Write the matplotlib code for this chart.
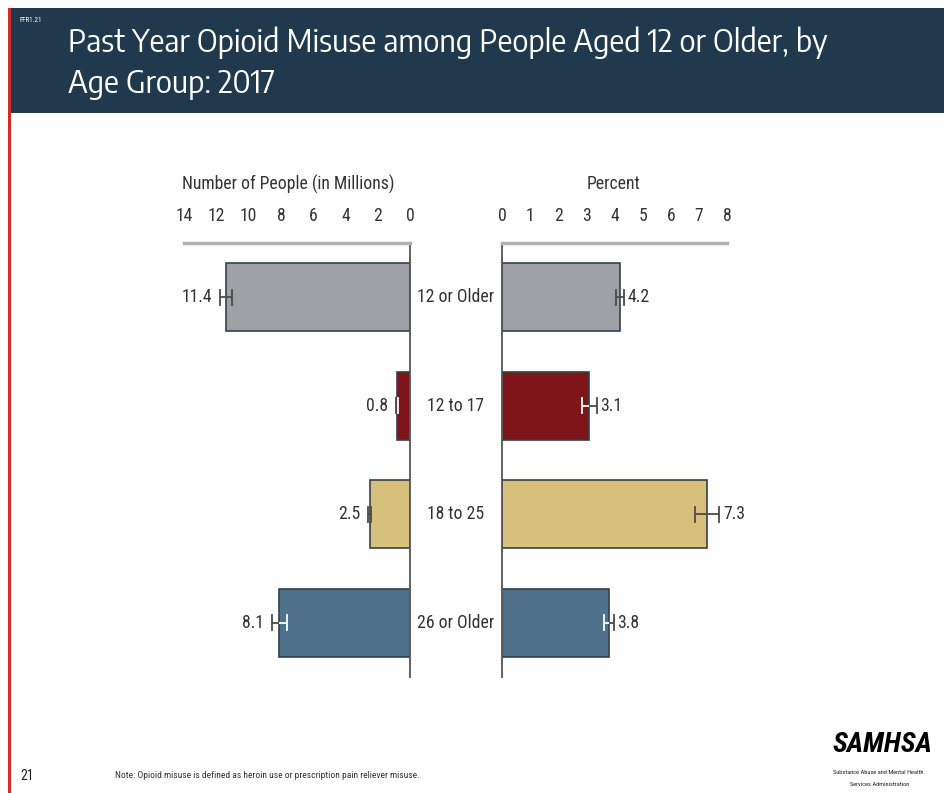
import matplotlib
matplotlib.use("Agg")
import matplotlib.pyplot as plt
from matplotlib.patches import Rectangle
from matplotlib import font_manager
from matplotlib.colors import to_rgb

fonts = font_manager.fontManager.ttflist
names = {f.name for f in fonts}

def pick(prefs):
    for p in prefs:
        if p in names:
            return [p, 'DejaVu Sans']
    return ['DejaVu Sans']

def has_weight(name, lo, hi):
    return any(f.name == name and lo <= (f.weight if isinstance(f.weight, int) else 400) <= hi
               for f in fonts)

NARROW = pick(['Roboto Condensed', 'Archivo Narrow', 'PT Sans Narrow', 'Liberation Sans Narrow',
               'Arial Narrow', 'Pragati Narrow', 'IBM Plex Sans Condensed', 'Asap Condensed'])
title_prefs = [n for n in ['Open Sans Condensed', 'Encode Sans Semi Condensed',
                           'Encode Sans Condensed', 'Roboto Condensed', 'Open Sans']
               if n in names and has_weight(n, 250, 450)]
TITLEF = [title_prefs[0], 'DejaVu Sans'] if title_prefs else ['DejaVu Sans']
TW = 300 if TITLEF[0] == 'Open Sans Condensed' else 400
LOGOF = NARROW

categories = ["12 or Older", "12 to 17", "18 to 25", "26 or Older"]
people_millions = [11.4, 0.8, 2.5, 8.1]
people_err = [0.37, 0.05, 0.1, 0.45]
percent = [4.2, 3.1, 7.3, 3.8]
percent_err = [0.15, 0.27, 0.43, 0.17]
bar_colors = ["#a0a1a6", "#7f1419", "#d7bf7c", "#4f718c"]
left_ticks = [14, 12, 10, 8, 6, 4, 2, 0]
right_ticks = [0, 1, 2, 3, 4, 5, 6, 7, 8]

W, H = 945, 793
fig = plt.figure(figsize=(W / 100, H / 100), dpi=100)
fig.patch.set_facecolor("white")
renderer = fig.canvas.get_renderer()

def fit_size(text, family, target_px, base=20, **kw):
    t = fig.text(0, 0, text, fontsize=base, family=family, **kw)
    w = t.get_window_extent(renderer=renderer).width
    t.remove()
    return base * target_px / w

def px(x0, y0, w, h):
    return [x0 / W, 1 - (y0 + h) / H, w / W, h / H]

TXT = "#333333"
FS = min(fit_size("Number of People (in Millions)", NARROW, 212), 16)

# Title band
fig.patches.append(Rectangle((8 / W, 1 - 113 / H), 1, 105 / H, transform=fig.transFigure,
                             facecolor="#20394d", edgecolor="none", zorder=0))
fig.patches.append(Rectangle((8 / W, 0), 3 / W, 1 - 8 / H, transform=fig.transFigure,
                             facecolor="#d42a2a", edgecolor="none", zorder=1))
fig.text(20 / W, 1 - 20 / H, "FFR1.21", color="white", fontsize=5, family=NARROW,
         va="center", ha="left")
title1 = "Past Year Opioid Misuse among People Aged 12 or Older, by"
TFS = min(fit_size(title1, TITLEF, 762, weight=TW), 28)
fig.text(68 / W, 1 - 52 / H, title1, color="white", fontsize=TFS, family=TITLEF, weight=TW,
         va="baseline", ha="left")
fig.text(68 / W, 1 - 93 / H, "Age Group: 2017", color="white", fontsize=TFS, family=TITLEF,
         weight=TW, va="baseline", ha="left")

ypos = list(range(len(categories)))
edge = "#36404a"
errc = "#4a4a4a"

def inner_color(c):
    r, g, b = to_rgb(c)
    return "white" if (0.299 * r + 0.587 * g + 0.114 * b) < 0.5 else errc

axL = fig.add_axes(px(184, 243, 226, 434))
axR = fig.add_axes(px(502, 243, 225, 434))

for ax, vals, errs, ticks, lim, side in [
        (axL, people_millions, people_err, left_ticks, (14, 0), "L"),
        (axR, percent, percent_err, right_ticks, (0, 8), "R")]:
    ax.barh(ypos, vals, height=0.63, color=bar_colors, edgecolor=edge, linewidth=1.2, zorder=2)
    for y, v, e, bc in zip(ypos, vals, errs, bar_colors):
        ic = inner_color(bc)
        ax.plot([v - e, v], [y, y], color=ic, lw=1.3, zorder=3, solid_capstyle="butt")
        ax.plot([v, v + e], [y, y], color=errc, lw=1.3, zorder=3, solid_capstyle="butt")
        ax.plot([v - e, v - e], [y - 0.07, y + 0.07], color=ic, lw=1.3, zorder=3)
        ax.plot([v + e, v + e], [y - 0.07, y + 0.07], color=errc, lw=1.3, zorder=3)
        txt = f"{v:.1f}"
        if side == "L":
            ax.text(v + e + 0.5, y, txt, ha="right", va="center", fontsize=FS, family=NARROW,
                    color=TXT)
        else:
            ax.text(v + e + 0.12, y, txt, ha="left", va="center", fontsize=FS, family=NARROW,
                    color=TXT)
    ax.set_xlim(*lim)
    ax.set_ylim(3.5, -0.5)
    ax.set_yticks([])
    ax.set_xticks(ticks)
    ax.set_xticklabels([str(t) for t in ticks], family=NARROW, fontsize=FS, color=TXT)
    ax.xaxis.set_ticks_position("top")
    ax.tick_params(axis="x", length=0, pad=13)
    ax.set_facecolor("none")
    for s in ["bottom", "left", "right", "top"]:
        ax.spines[s].set_visible(False)
    ax.spines["top"].set_visible(True)
    ax.spines["top"].set_color("#b0b0b0")
    ax.spines["top"].set_linewidth(2.5)
    keep = "right" if side == "L" else "left"
    ax.spines[keep].set_visible(True)
    ax.spines[keep].set_color("#555555")
    ax.spines[keep].set_linewidth(1.3)

fig.text(288 / W, 1 - 184 / H, "Number of People (in Millions)", family=NARROW, fontsize=FS,
         color=TXT, ha="center", va="center")
fig.text(614 / W, 1 - 184 / H, "Percent", family=NARROW, fontsize=FS,
         color=TXT, ha="center", va="center")

for y, c in zip(ypos, categories):
    axL.annotate(c, xy=(1, y), xycoords=("axes fraction", "data"), xytext=(46 * 0.72, 0),
                 textcoords="offset points", ha="center", va="center", fontsize=FS,
                 family=NARROW, color=TXT)

# Footer
fig.text(20 / W, 1 - 776 / H, "21", fontsize=10, family=NARROW,
         va="center", ha="left", color="#222222")
note = "Note: Opioid misuse is defined as heroin use or prescription pain reliever misuse."
fig.text(115 / W, 1 - 775 / H, note, fontsize=fit_size(note, NARROW, 303), family=NARROW,
         va="center", ha="left", color="#333333")
fig.text(882 / W, 1 - 745 / H, "SAMHSA",
         fontsize=fit_size("SAMHSA", LOGOF, 100, weight="heavy", style="italic"),
         family=LOGOF, weight="heavy", style="italic", va="center", ha="center", color="black")
sub1 = "Substance Abuse and Mental Health"
sfs = fit_size(sub1, NARROW, 90)
fig.text(878 / W, 1 - 773 / H, sub1, fontsize=sfs, family=NARROW,
         va="center", ha="center", color="#222222")
fig.text(880 / W, 1 - 785 / H, "Services Administration", fontsize=sfs, family=NARROW,
         va="center", ha="center", color="#222222")

fig.savefig("out.png", dpi=100)
